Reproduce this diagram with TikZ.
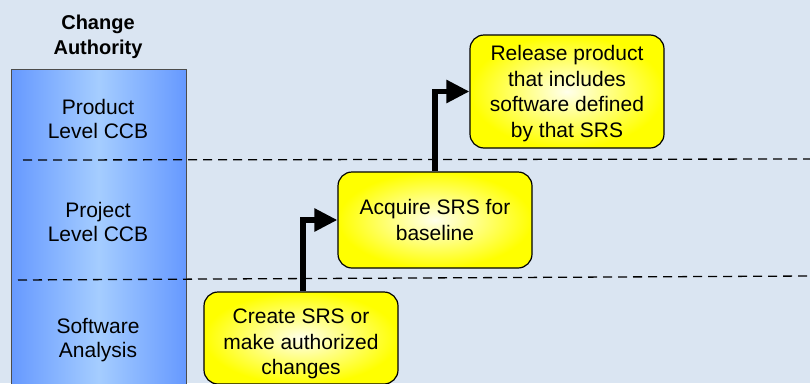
\documentclass[tikz,border=0pt]{standalone}
\usepackage{fontspec}
\setmainfont{Liberation Sans}
\usetikzlibrary{arrows.meta}
\definecolor{bgc}{RGB}{218,229,242}
\definecolor{coledge}{RGB}{102,153,255}
\definecolor{colmid}{RGB}{165,205,255}
\definecolor{yedge}{RGB}{255,255,0}
\definecolor{ymid}{RGB}{255,255,235}
\tikzset{
  lbl/.style={align=center,font=\fontsize{21}{24}\selectfont},
  hdr/.style={align=center,font=\bfseries\fontsize{20}{25}\selectfont},
  ybox/.style={draw=black,line width=1.2pt,rounded corners=14pt,inner color=ymid,outer color=yedge,inner sep=0pt},
  ytxt/.style={align=center,font=\fontsize{21}{25.5}\selectfont,inner sep=0pt},
  lane/.style={dashed,line width=1.3pt,dash pattern=on 9pt off 6pt},
  flow/.style={line width=5.5pt,-{Triangle[length=23pt,width=22pt]}}
}
\begin{document}
\begin{tikzpicture}[x=1pt,y=-1pt]
\useasboundingbox (0,0) rectangle (810,383);
\clip (0,0) rectangle (810,383);
\fill[bgc] (0,0) rectangle (810,383);
% column
\path[draw=black!70,line width=1pt,left color=coledge,right color=coledge,middle color=colmid] (11,69) rectangle (186,400);
\node[hdr] (hdr) at (98,37) {Change\\Authority};
\node[lbl] (l1) at (98,119) {Product\\Level CCB};
\node[lbl] (l2) at (98,222) {Project\\Level CCB};
\node[lbl] (l3) at (98,340) {Software\\Analysis};
% lanes
\coordinate (d1a) at (23,160); \coordinate (d1b) at (810,159);
\coordinate (d2a) at (18,280); \coordinate (d2b) at (810,276);
\draw[lane] (d1a) -- (d1b);
\draw[lane] (d2a) -- (d2b);
% boxes
\node[ybox,minimum width=194pt,minimum height=92pt] (create) at (301,338) {};
\node[ytxt] (createtxt) at (301,344) {Create SRS or\\make authorized\\changes};
\node[ybox,minimum width=194pt,minimum height=96pt] (acq) at (435,220) {};
\node[ytxt] (acqtxt) at (435,220) {Acquire SRS for\\baseline};
\node[ybox,minimum width=194pt,minimum height=113pt] (rel) at (567,91.5) {};
\node[ytxt] (reltxt) at (567,93.5) {Release product\\that includes\\software defined\\by that SRS};
% arrows
\draw[flow] (create.north -| 303,0) |- (acq.west);
\draw[flow] (acq.north) |- (rel.west);
\end{tikzpicture}
\end{document}
